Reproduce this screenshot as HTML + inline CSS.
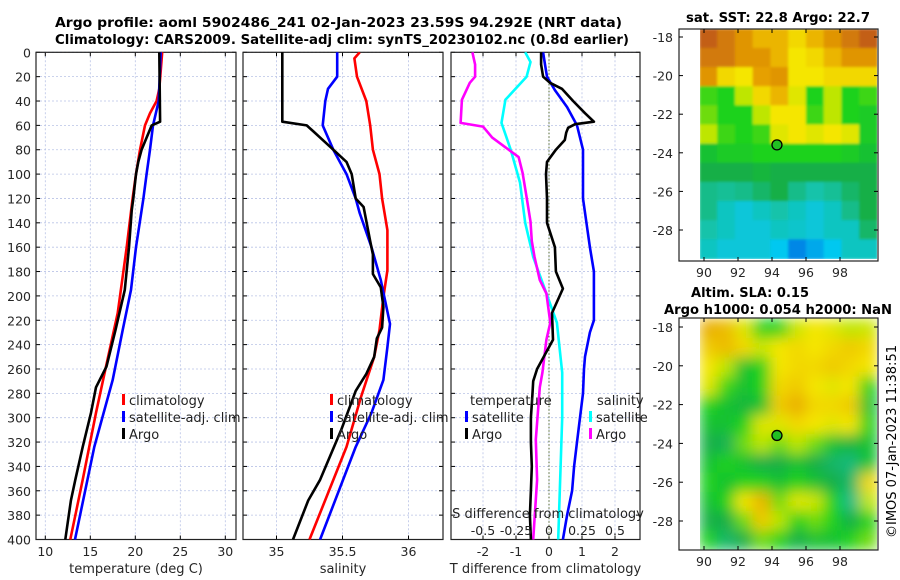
<!DOCTYPE html>
<html><head><meta charset="utf-8"><style>
body{margin:0;background:#fff;}
svg{display:block;font-family:"DejaVu Sans","Liberation Sans",sans-serif;}
</style></head><body>
<svg id="fig" width="900" height="580" viewBox="0 0 900 580" xmlns="http://www.w3.org/2000/svg">
<defs>
<filter id="blur1" x="0" y="0" width="1" height="1"><feGaussianBlur stdDeviation="1.2"/></filter>
<filter id="blur2" x="-0.05" y="-0.05" width="1.1" height="1.1"><feGaussianBlur stdDeviation="7"/></filter>
<clipPath id="clipm1"><rect x="700" y="29" width="177" height="230"/></clipPath>
<clipPath id="clipm2"><rect x="700" y="318" width="177" height="232"/></clipPath>
<clipPath id="clipp1"><rect x="36" y="52" width="200" height="488"/></clipPath>
<clipPath id="clipp2"><rect x="243" y="52" width="200" height="488"/></clipPath>
<clipPath id="clipp3"><rect x="451" y="52" width="189" height="488"/></clipPath>
</defs>
<g id="titles">
<text x="55" y="27" textLength="567" lengthAdjust="spacingAndGlyphs" font-size="13.5" font-weight="bold">Argo profile: aoml 5902486_241 02-Jan-2023 23.59S 94.292E (NRT data)</text>
<text x="55" y="44" textLength="574" lengthAdjust="spacingAndGlyphs" font-size="13.5" font-weight="bold">Climatology: CARS2009. Satellite-adj clim: synTS_20230102.nc (0.8d earlier)</text>
<text x="686" y="22" textLength="184" lengthAdjust="spacingAndGlyphs" font-size="13.5" font-weight="bold">sat. SST: 22.8 Argo: 22.7</text>
<text x="691" y="297" textLength="118" lengthAdjust="spacingAndGlyphs" font-size="13.5" font-weight="bold">Altim. SLA: 0.15</text>
<text x="664" y="314" textLength="228" lengthAdjust="spacingAndGlyphs" font-size="13.5" font-weight="bold">Argo h1000: 0.054 h2000: NaN</text>
<text transform="translate(896,538) rotate(-90)" textLength="193" lengthAdjust="spacingAndGlyphs" font-size="13">©IMOS 07-Jan-2023 11:38:51</text>
</g>
<g id="layer"></g>
</svg>
<script>
// ---- data: temperature panel (deg C) ----
const tClimDepth=[0,30,40,50,60,80,100,120,160,214,258,296,351,400];
const tClimVal=[22.99,22.67,22.37,21.63,21.08,20.52,20.08,19.7,19.04,18.04,16.74,15.63,14.15,12.78];
const tSatDepth=[0,40,60,80,100,120,160,195,228,269,324,400];
const tSatVal=[22.82,22.6,21.97,21.63,21.26,20.9,20.08,19.52,18.6,17.49,15.44,13.3];
const tArgoDepth=[0,57,60,70,80,90,100,120,130,160,195,228,258,275,296,324,351,368,400];
const tArgoVal=[22.67,22.75,21.82,21.26,20.7,20.33,20.08,19.78,19.6,19.3,18.83,17.8,16.8,15.63,15.08,14.15,13.33,12.85,12.22];
// ---- data: salinity panel ----
const sClimDepth=[0,5,20,40,60,80,100,120,146,179,201,228,250,283,324,400];
const sClimVal=[35.63,35.59,35.61,35.68,35.71,35.73,35.78,35.8,35.84,35.84,35.81,35.78,35.74,35.64,35.53,35.25];
const sSatDepth=[0,20,30,40,60,80,100,120,132,160,187,223,242,269,296,324,400];
const sSatVal=[35.46,35.46,35.39,35.37,35.35,35.43,35.53,35.6,35.63,35.72,35.79,35.86,35.84,35.81,35.72,35.6,35.33];
const sArgoDepth=[0,57,60,65,70,80,90,100,120,127,155,166,182,193,209,226,235,250,264,278,310,351,368,400];
const sArgoVal=[35.044,35.044,35.229,35.28,35.33,35.43,35.53,35.57,35.6,35.66,35.71,35.73,35.73,35.79,35.81,35.8,35.76,35.74,35.68,35.6,35.49,35.33,35.24,35.125];
// ---- data: difference panel ----
const dTArgoDepth=[0,10,20,25,30,40,50,57,59,62,66,72,80,90,100,120,140,160,180,194,214,236,260,270,280,300,320,340,360,380,400];
const dTArgoVal=[-0.24,-0.24,-0.18,0.03,0.39,0.73,1.09,1.36,0.79,0.58,0.52,0.48,0.21,-0.06,-0.09,-0.06,-0.06,0.18,0.21,0.42,0.09,0.12,-0.36,-0.48,-0.5,-0.55,-0.55,-0.52,-0.55,-0.58,-0.55];
const dTSatDepth=[0,10,20,31,45,60,80,100,120,160,180,200,220,230,250,260,280,300,320,340,360,380,400];
const dTSatVal=[-0.18,-0.12,-0.06,0.18,0.55,0.85,1.03,1.03,1.03,1.24,1.36,1.36,1.36,1.24,1.09,1.06,1.03,0.94,0.85,0.76,0.7,0.55,0.42];
const dSArgoDepth=[0,10,20,25,39,58,61,70,78,86,99,119,139,155,168,187,198,222,236,263,275,318,351,400];
const dSArgoVal=[-0.58,-0.56,-0.56,-0.6,-0.66,-0.67,-0.5,-0.43,-0.33,-0.23,-0.2,-0.17,-0.14,-0.13,-0.11,-0.07,-0.02,0.01,-0.02,-0.05,-0.07,-0.1,-0.09,-0.12];
const dSSatDepth=[0,8,20,39,58,80,107,140,168,198,222,263,300,400];
const dSSatVal=[-0.18,-0.14,-0.17,-0.33,-0.36,-0.29,-0.22,-0.18,-0.12,-0.02,0.06,0.1,0.1,0.07];
// ---- tick labels ----
const depthTicks=[0,20,40,60,80,100,120,140,160,180,200,220,240,260,280,300,320,340,360,380,400];
const tempTicks=[10,15,20,25,30];
const salTicks=[35,35.5,36];
const salTickLabels=["35","35.5","36"];
const dTTicks=[-2,-1,0,1,2];
const dSTicks=[-0.5,-0.25,0,0.25,0.5];
const dSTickLabels=["-0.5","-0.25","0","0.25","0.5"];
const lonTicks=[90,92,94,96,98];
const latTicks=[-18,-20,-22,-24,-26,-28];
// ---- map grids (normalised colour index 0..1), rows north->south ----
const sstGrid=[
[1,0.95,0.9,0.85,0.85,0.8,0.85,0.9,0.95,1],
[0.95,0.95,0.9,0.9,0.85,0.78,0.8,0.85,0.9,0.9],
[0.9,0.8,0.78,0.88,0.9,0.78,0.78,0.8,0.8,0.8],
[0.62,0.6,0.7,0.8,0.85,0.75,0.6,0.7,0.6,0.62],
[0.65,0.6,0.6,0.7,0.78,0.78,0.62,0.7,0.6,0.58],
[0.7,0.62,0.6,0.62,0.75,0.78,0.75,0.78,0.75,0.58],
[0.55,0.58,0.58,0.6,0.6,0.6,0.6,0.6,0.58,0.55],
[0.5,0.5,0.5,0.52,0.5,0.5,0.5,0.5,0.5,0.5],
[0.4,0.38,0.4,0.45,0.5,0.4,0.35,0.38,0.45,0.5],
[0.4,0.3,0.25,0.3,0.35,0.3,0.25,0.3,0.4,0.5],
[0.35,0.3,0.25,0.25,0.3,0.28,0.25,0.3,0.3,0.45],
[0.3,0.25,0.25,0.25,0.2,0.1,0.15,0.2,0.3,0.3]];
const slaGrid=[
[0.86,0.84,0.75,0.6,0.6,0.72,0.78,0.75,0.7,0.72],
[0.82,0.84,0.8,0.72,0.78,0.8,0.78,0.8,0.82,0.8],
[0.78,0.7,0.55,0.6,0.78,0.8,0.8,0.82,0.8,0.78],
[0.75,0.62,0.55,0.6,0.8,0.82,0.78,0.75,0.78,0.6],
[0.6,0.55,0.52,0.55,0.82,0.86,0.8,0.8,0.82,0.55],
[0.55,0.55,0.6,0.75,0.75,0.8,0.78,0.75,0.78,0.6],
[0.5,0.48,0.65,0.7,0.65,0.7,0.65,0.55,0.52,0.55],
[0.55,0.6,0.55,0.5,0.5,0.55,0.5,0.45,0.42,0.55],
[0.6,0.55,0.6,0.6,0.55,0.6,0.55,0.5,0.45,0.8],
[0.55,0.6,0.78,0.85,0.65,0.75,0.72,0.6,0.4,0.7],
[0.5,0.5,0.65,0.82,0.7,0.6,0.65,0.6,0.5,0.6],
[0.6,0.45,0.5,0.65,0.6,0.5,0.55,0.55,0.6,0.65]];
const argoLon=94.292, argoLat=-23.59;

const NS="http://www.w3.org/2000/svg";
const layer=document.getElementById('layer');
function mk(tag,attrs,parent){const e=document.createElementNS(NS,tag);for(const k in attrs)e.setAttribute(k,attrs[k]);(parent||layer).appendChild(e);return e;}
function txt(s,x,y,anchor,size,parent){const t=mk('text',{x:x,y:y,'text-anchor':anchor,'font-size':size},parent);t.textContent=s;return t;}

const yTop=52.3,yBot=539.5;
const yD=d=>yTop+d*(yBot-yTop)/400;
const xT=v=>45.3+(v-10)*9.0;
const xS=v=>276.5+(v-35)*132;
const xDT=v=>549+v*33;
const xDS=v=>549+v*132;

function panel(x0,x1,name,xs,ticks,tlabels,xtitle,showY){
  const g=mk('g',{});
  
  
  ticks.forEach((v,i)=>{const X=xs(v);
    const l=mk('line',{x1:X,x2:X,y1:yTop,y2:yBot,stroke:'#b9c3e6','stroke-width':0.8,'stroke-dasharray':'2,2'},g);
    
    mk('line',{x1:X,x2:X,y1:yBot,y2:yBot-4,stroke:'#000'},g);mk('line',{x1:X,x2:X,y1:yTop,y2:yTop+4,stroke:'#000'},g);
    const t=txt(tlabels[i],X,556,'middle',12.5,g);t.setAttribute('fill','#262626');
    
  });
  depthTicks.forEach(d=>{const Y=yD(d);
    const l=mk('line',{x1:x0,x2:x1,y1:Y,y2:Y,stroke:'#b9c3e6','stroke-width':0.8,'stroke-dasharray':'2,2'},g);
    
    mk('line',{x1:x0,x2:x0+4,y1:Y,y2:Y,stroke:'#000'},g);mk('line',{x1:x1,x2:x1-4,y1:Y,y2:Y,stroke:'#000'},g);
    if(showY){const t=txt(String(d),31,Y+5,'end',12.5,g);t.setAttribute('fill','#262626');
      }
  });
  const b=mk('rect',{x:x0,y:yTop,width:x1-x0,height:yBot-yTop,fill:'none',stroke:'#222','stroke-width':1.2},g);
  
  if(xtitle){const t=txt(xtitle,(x0+x1)/2,573,'middle',13,g);t.setAttribute('fill','#262626');
    }
  return g;
}
function line(depths,vals,xs,color,clip,name){
  const pts=depths.map((d,i)=>xs(vals[i]).toFixed(1)+','+yD(d).toFixed(1)).join(' ');
  const p=mk('polyline',{points:pts,fill:'none',stroke:color,'stroke-width':2.6,'stroke-linejoin':'round','clip-path':'url(#'+clip+')'});
  
  
}
function legend(x,y,items,name){
  const g=mk('g',{});
  
  
  items.forEach((it,i)=>{const Y=y+i*17;
    if(it[1]){mk('rect',{x:x,y:Y-11,width:3,height:11,fill:it[1]},g);}
    const t=txt(it[0],x+(it[1]?7:0),Y,'start',13,g);t.setAttribute('fill','#222');
    
  });
}

// Panel 1
panel(36,236,'temperature-panel',xT,tempTicks,tempTicks.map(String),'temperature (deg C)',true);
line(tClimDepth,tClimVal,xT,'#ff0000','clipp1','temp-climatology-line');
line(tSatDepth,tSatVal,xT,'#0000ff','clipp1','temp-satellite-line');
line(tArgoDepth,tArgoVal,xT,'#000000','clipp1','temp-argo-line');
legend(122,405,[['climatology','#ff0000'],['satellite-adj. clim','#0000ff'],['Argo','#000']],'temperature-legend');
// Panel 2
panel(243,443,'salinity-panel',xS,salTicks,salTickLabels,'salinity',false);
line(sClimDepth,sClimVal,xS,'#ff0000','clipp2','sal-climatology-line');
line(sSatDepth,sSatVal,xS,'#0000ff','clipp2','sal-satellite-line');
line(sArgoDepth,sArgoVal,xS,'#000000','clipp2','sal-argo-line');
legend(330,405,[['climatology','#ff0000'],['satellite-adj. clim','#0000ff'],['Argo','#000']],'salinity-legend');
// Panel 3
panel(451,640,'difference-panel',xDT,dTTicks,dTTicks.map(String),'T difference from climatology',false);
const zl=mk('line',{x1:xDT(0),x2:xDT(0),y1:yTop,y2:yBot,stroke:'#556b2f','stroke-width':1,'stroke-dasharray':'1.5,2'});

line(dSSatDepth,dSSatVal,xDS,'#00ffff','clipp3','sal-diff-satellite-line');
line(dSArgoDepth,dSArgoVal,xDS,'#ff00ff','clipp3','sal-diff-argo-line');
line(dTSatDepth,dTSatVal,xDT,'#0000ff','clipp3','temp-diff-satellite-line');
line(dTArgoDepth,dTArgoVal,xDT,'#000000','clipp3','temp-diff-argo-line');
legend(470,405,[['temperature',null]],'diff-legend-temp-header');
legend(465,422,[['satellite','#0000ff'],['Argo','#000']],'diff-legend-temp');
legend(597,405,[['salinity',null]],'diff-legend-sal-header');
legend(589,422,[['satellite','#00ffff'],['Argo','#ff00ff']],'diff-legend-sal');
const sdt=txt('S difference from climatology',548,518,'middle',13);sdt.setAttribute('fill','#222');

dSTicks.forEach((v,i)=>{const t=txt(dSTickLabels[i],xDS(v),535,'middle',12.5);t.setAttribute('fill','#222');
  });

// Maps
const stops=[[0,[0,70,220]],[0.2,[0,200,240]],[0.35,[20,195,170]],[0.5,[20,175,70]],[0.6,[30,210,30]],[0.7,[190,230,0]],[0.78,[245,230,0]],[0.88,[230,160,0]],[1,[195,95,20]]];
function cmap(v){for(let i=1;i<stops.length;i++){if(v<=stops[i][0]){const a=stops[i-1],b=stops[i];const f=(v-a[0])/(b[0]-a[0]);
  const c=a[1].map((q,k)=>Math.round(q+(b[1][k]-q)*f));return 'rgb('+c.join(',')+')';}}return 'rgb(195,95,20)';}
const lonX=lon=>704+(lon-90)*17;
function map(grid,ytop,ybot,latY,clip,filt,name){
  const g=mk('g',{});
  
  
  const img=mk('g',{'clip-path':'url(#'+clip+')'},g);
  const inner=mk('g',{filter:'url(#'+filt+')'},img);
  const lon0=89.76,lon1=100.2,lat0=-17.6,lat1=-29.5;
  const nr=grid.length,nc=grid[0].length;
  grid.forEach((row,r)=>row.forEach((v,c)=>{
    const xa=lonX(lon0+(lon1-lon0)*c/nc),xb=lonX(lon0+(lon1-lon0)*(c+1)/nc);
    const ya=latY(lat0+(lat1-lat0)*r/nr),yb=latY(lat0+(lat1-lat0)*(r+1)/nr);
    const cell=mk('rect',{x:xa-0.5,y:ya-0.5,width:xb-xa+1,height:yb-ya+1,fill:cmap(v)},inner);
    
    
  }));
  const box=mk('rect',{x:679,y:ytop,width:199,height:ybot-ytop,fill:'none',stroke:'#222','stroke-width':1.2},g);
  
  lonTicks.forEach(l=>{const X=lonX(l);mk('line',{x1:X,x2:X,y1:ybot,y2:ybot-4,stroke:'#000'},g);mk('line',{x1:X,x2:X,y1:ytop,y2:ytop+4,stroke:'#000'},g);
    const t=txt(String(l),X,ybot+16,'middle',12.5,g);t.setAttribute('fill','#262626');
    });
  latTicks.forEach(l=>{const Y=latY(l);mk('line',{x1:679,x2:683,y1:Y,y2:Y,stroke:'#000'},g);mk('line',{x1:878,x2:874,y1:Y,y2:Y,stroke:'#000'},g);
    const t=txt(String(l),673,Y+5,'end',12.5,g);t.setAttribute('fill','#262626');
    });
  const m=mk('circle',{cx:lonX(argoLon),cy:latY(argoLat),r:5,fill:'#22c022',stroke:'#000','stroke-width':1.3},g);
  
}
map(sstGrid,29,261,lat=>37+(-18-lat)*19.3,'clipm1','blur1','sst-map');
map(slaGrid,318,550,lat=>327+(-18-lat)*19.4,'clipm2','blur2','sla-map');
</script>
</body></html>
